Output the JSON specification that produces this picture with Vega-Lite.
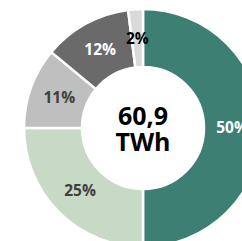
{
  "$schema": "https://vega.github.io/schema/vega-lite/v6.json",
  "width": 286,
  "height": 256,
  "autosize": "none",
  "padding": 0,
  "background": "white",
  "config": {"view": {"stroke": null}},
  "data": {"values": [
    {"i": 1, "seg": "A", "share": 50, "label": "50%"},
    {"i": 2, "seg": "B", "share": 25, "label": "25%"},
    {"i": 3, "seg": "C", "share": 11, "label": "11%"},
    {"i": 4, "seg": "D", "share": 12, "label": "12%"},
    {"i": 5, "seg": "E", "share": 2, "label": "2%"}
  ]},
  "layer": [
    {
      "mark": {"type": "arc", "outerRadius": 119, "innerRadius": 61, "stroke": "white", "strokeWidth": 2.5},
      "encoding": {
        "theta": {"field": "share", "type": "quantitative", "stack": true},
        "order": {"field": "i", "type": "quantitative"},
        "color": {"field": "seg", "type": "nominal", "legend": null,
          "scale": {"domain": ["A","B","C","D","E"], "range": ["#3e7f74","#c6dac6","#bfbfbf","#6a6a6a","#d9d9d9"]}}
      }
    },
    {
      "mark": {"type": "text", "radius": 89, "font": "Open Sans", "fontWeight": "bold", "fontSize": 15.5},
      "encoding": {
        "theta": {"field": "share", "type": "quantitative", "stack": true},
        "order": {"field": "i", "type": "quantitative"},
        "text": {"field": "label"},
        "color": {"field": "seg", "type": "nominal", "legend": null,
          "scale": {"domain": ["A","B","C","D","E"], "range": ["#ffffff","#404040","#404040","#ffffff","#000000"]}}
      }
    },
    {
      "data": {"values": [{"center": "60,9\nTWh"}]},
      "mark": {"type": "text", "font": "Open Sans", "fontWeight": "bold", "fontSize": 25, "lineBreak": "\n", "lineHeight": 26, "color": "#000000", "baseline": "middle", "dy": -11},
      "encoding": {"text": {"field": "center"}}
    }
  ],
  "resolve": {"scale": {"color": "independent"}}
}
